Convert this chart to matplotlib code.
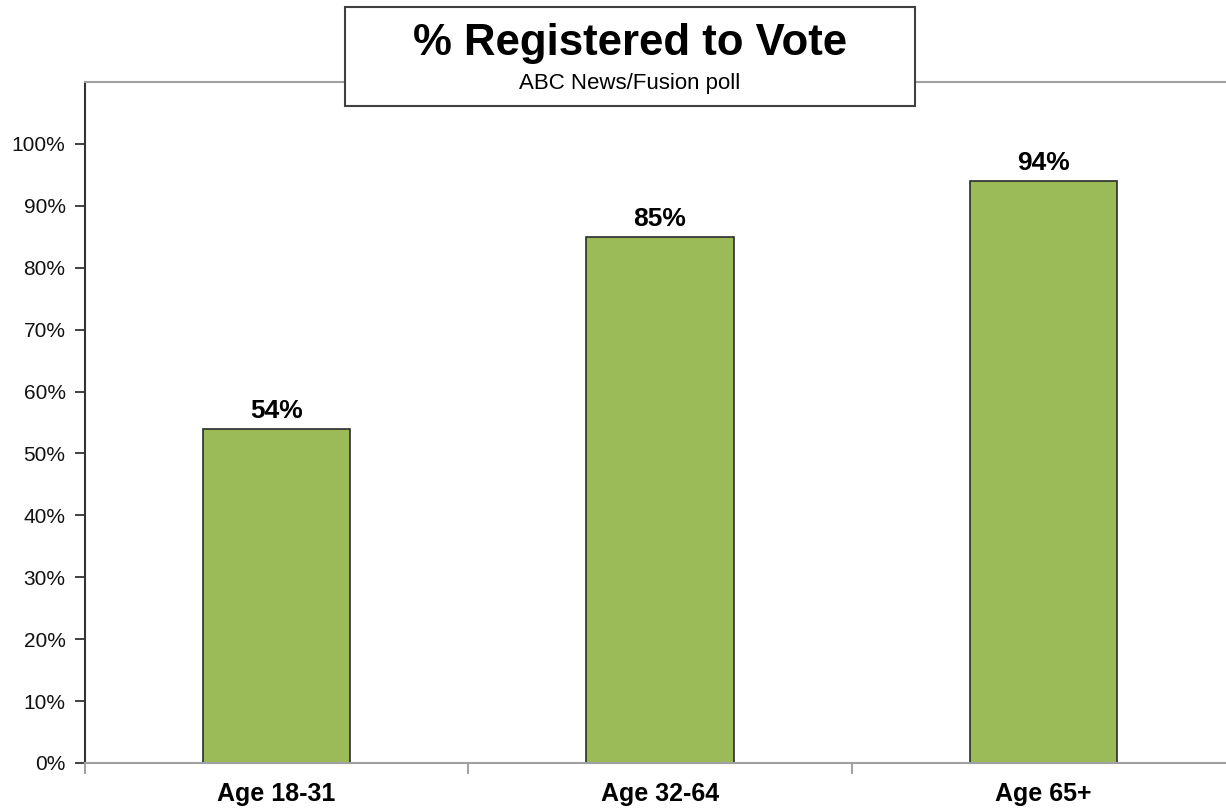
import matplotlib
matplotlib.use("Agg")
import matplotlib.pyplot as plt
from matplotlib.patches import Rectangle
from matplotlib.ticker import FixedLocator, PercentFormatter

categories = ["Age 18-31", "Age 32-64", "Age 65+"]
values = [54, 85, 94]
yticks = list(range(0, 101, 10))
title = "% Registered to Vote"
subtitle = "ABC News/Fusion poll"

plt.rcParams['font.family'] = ['Liberation Sans', 'DejaVu Sans']

W, H = 1226, 808
fig = plt.figure(figsize=(W / 100, H / 100), dpi=100)
ax_left, ax_right = 85 / W, 1235 / W
ax_bottom, ax_top = 1 - 763 / H, 1 - 82 / H
ax = fig.add_axes([ax_left, ax_bottom, ax_right - ax_left, ax_top - ax_bottom])

x = range(len(categories))
ax.bar(x, values, width=0.385, color="#9BBB59", edgecolor="#2b2b2b", linewidth=1.2, zorder=2)
for xi, v in zip(x, values):
    ax.annotate(f"{v}%", (xi, v), xytext=(0, 8), textcoords="offset points",
                ha="center", va="baseline", fontsize=19, fontweight="bold", color="black")

ax.set_xlim(-0.5, len(categories) - 0.5)
ax.set_ylim(0, 110)
ax.set_yticks(yticks)
ax.yaxis.set_major_formatter(PercentFormatter(decimals=0))
ax.tick_params(axis="y", direction="out", length=7, width=1.3, color="#333333",
               labelsize=15, pad=7, labelcolor="#111111")

ax.set_xticks(list(x))
ax.set_xticklabels(categories, fontsize=18, fontweight="bold")
ax.tick_params(axis="x", which="major", length=0, pad=14)
ax.xaxis.set_minor_locator(FixedLocator([i - 0.5 for i in range(len(categories) + 1)]))
ax.tick_params(axis="x", which="minor", direction="out", length=8, width=1.3, color="#999999")

ax.spines["left"].set_color("#333333")
ax.spines["left"].set_linewidth(1.5)
for s in ("top", "bottom"):
    ax.spines[s].set_color("#a0a0a0")
    ax.spines[s].set_linewidth(1.5)
ax.spines["right"].set_visible(False)

# Title box
bx0, bx1, by0, by1 = 345, 915, 7, 106
rect = Rectangle((bx0 / W, 1 - by1 / H), (bx1 - bx0) / W, (by1 - by0) / H,
                 transform=fig.transFigure, facecolor="white", edgecolor="#404040",
                 linewidth=1.5, zorder=10)
fig.patches.append(rect)
fig.text(630 / W, 1 - 55 / H, title, ha="center", va="baseline",
         fontsize=31.5, fontweight="bold", zorder=11)
fig.text(630 / W, 1 - 89 / H, subtitle, ha="center", va="baseline",
         fontsize=16, zorder=11)

fig.savefig("out.png", dpi=100)
